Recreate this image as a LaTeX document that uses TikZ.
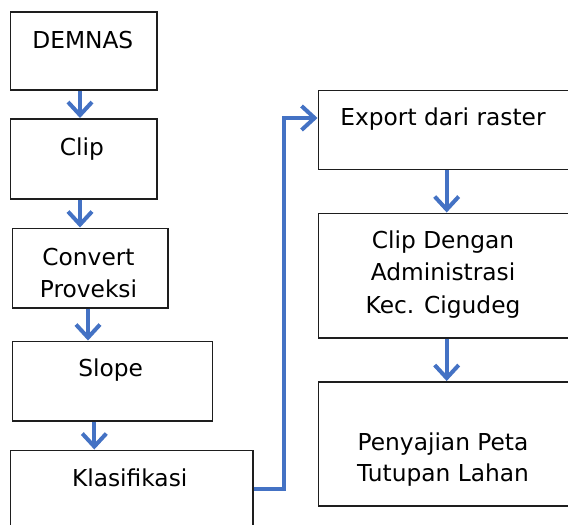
\documentclass[tikz,border=0pt]{standalone}
\usepackage{fontspec}
\setmainfont{DejaVu Sans}
\usetikzlibrary{arrows.meta}
\definecolor{flowblue}{RGB}{68,114,196}
\definecolor{boxline}{RGB}{30,30,30}
\begin{document}
\begin{tikzpicture}[x=1pt,y=-1pt,
  box/.style={draw=boxline, line width=1.5pt, rectangle, inner sep=0pt, anchor=north west},
  txt/.style={inner sep=0pt, anchor=base, font=\fontsize{23.3}{31}\selectfont, text=black},
  arr/.style={draw=flowblue, line width=4pt, -{Straight Barb[length=13pt,width=24pt,line width=4pt]}}]
\useasboundingbox (0,0) rectangle (568,525);
\clip (0,0) rectangle (568,525);
\fill[white] (0,0) rectangle (568,525);
% boxes
\node[box, minimum width=146.5pt, minimum height=78pt] (demnas) at (9.5,11) {};
\node[box, minimum width=146.5pt, minimum height=80pt] (clip) at (9.5,118) {};
\node[box, minimum width=155.5pt, minimum height=79.5pt] (convert) at (11.5,227.5) {};
\node[box, minimum width=200pt, minimum height=79.5pt] (slope) at (11.5,340.5) {};
\node[box, minimum width=242.5pt, minimum height=95pt] (klas) at (9.5,449.5) {};
\node[box, minimum width=265pt, minimum height=79pt] (export) at (317.5,89.5) {};
\node[box, minimum width=265pt, minimum height=124.5pt] (clipd) at (317.5,212.5) {};
\node[box, minimum width=265pt, minimum height=124pt] (peny) at (317.5,381) {};
% texts
\node[txt] (tdemnas) at (82.8,48.3) {DEMNAS};
\node[txt] (tclip) at (81.8,155.7) {Clip};
\node[txt] (tconv1) at (88.5,265) {Convert};
\begin{scope}
\clip (11.5,227.5) rectangle (167,297);
\node[txt] (tconv2) at (88.5,297) {Proveksi};
\end{scope}
\node[txt] (tslope) at (110.7,376.7) {Slope};
\node[txt] (tklas) at (129.7,486.7) {Klasifikasi};
\node[txt] (texport) at (443,125.7) {Export dari raster};
\node[txt] (tclipd1) at (443,248.3) {Clip Dengan};
\node[txt] (tclipd2) at (443,280.8) {Administrasi};
\node[txt] (tclipd3) at (443,313.3) {Kec. Cigudeg};
\node[txt] (tpeny1) at (443,450) {Penyajian Peta};
\node[txt] (tpeny2) at (443,481.7) {Tutupan Lahan};
% connectors
\draw[arr] (demnas.south -| 80,0) -- (clip.north -| 80,0);
\draw[arr] (clip.south -| 80,0) -- (convert.north -| 80,0);
\draw[arr] (convert.south -| 88,0) -- (slope.north -| 88,0);
\draw[arr] (slope.south -| 94.3,0) -- (klas.north -| 94.3,0);
\draw[arr] (export.south -| 446.7,0) -- (clipd.north -| 446.7,0);
\draw[arr] (clipd.south -| 446.7,0) -- (peny.north -| 446.7,0);
\draw[arr] (klas.east |- 0,488.7) -| (284,118) -- (export.west |- 0,118);
\end{tikzpicture}
\end{document}
